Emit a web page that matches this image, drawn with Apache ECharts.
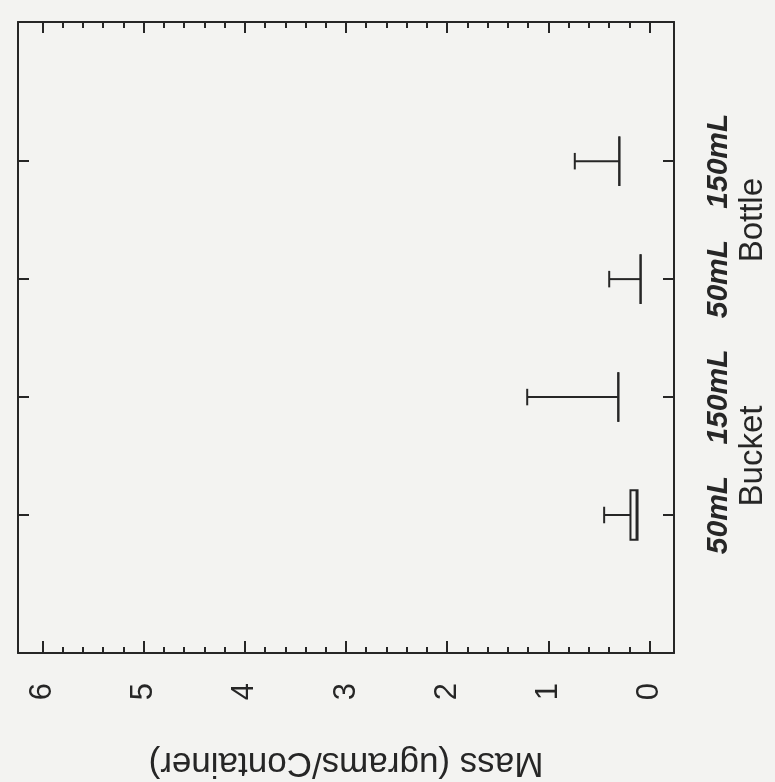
<!DOCTYPE html>
<html><head><meta charset="utf-8">
<script src="https://cdn.jsdelivr.net/npm/echarts@6/dist/echarts.min.js"></script>
<style>html,body{margin:0;padding:0;background:#f3f3f1}#c{width:775px;height:782px}</style>
</head><body><div id="c"></div>
<script>
// ---- data ----
const categories = ['50mL', '150mL', '50mL', '150mL'];
const positions = [1, 2, 3, 4];
const groups = ['Bucket', 'Bottle'];
const groupPositions = [1.5, 3.5];
const minVals = [0.12, 0.31, 0.09, 0.30];
const q1Vals = [0.12, 0.31, 0.09, 0.30];
const medianVals = [0.13, 0.31, 0.09, 0.30];
const q3Vals = [0.19, 0.31, 0.09, 0.30];
const maxVals = [0.45, 1.21, 0.40, 0.74];
const valueTicks = [0, 1, 2, 3, 4, 5, 6];
const minorTicks = [0.2,0.4,0.6,0.8,1.2,1.4,1.6,1.8,2.2,2.4,2.6,2.8,3.2,3.4,3.6,3.8,4.2,4.4,4.6,4.8,5.2,5.4,5.6,5.8];
const valueTitle = 'Mass (ugrams/Container)';

const ink = '#262626';
const rows = positions.map((p, i) => [p, minVals[i], q1Vals[i], medianVals[i], q3Vals[i], maxVals[i]]);

function xAx(pos, ticks, len, opts) {
  return Object.assign({
    type: 'value', position: pos, min: -0.24, max: 6.24, inverse: true,
    axisLine: { show: false, onZero: false, lineStyle: { color: ink, width: 2 } },
    axisTick: { show: true, inside: true, length: len, customValues: ticks, lineStyle: { color: ink, width: 2 } },
    axisLabel: { show: false }, splitLine: { show: false }
  }, opts || {});
}
function yAx(pos, opts) {
  return Object.assign({
    type: 'value', position: pos, min: -0.17, max: 5.18,
    axisLine: { show: true, onZero: false, lineStyle: { color: ink, width: 2 } },
    axisTick: { show: true, inside: true, length: 11, customValues: positions, lineStyle: { color: ink, width: 2 } },
    axisLabel: { show: false }, splitLine: { show: false }
  }, opts || {});
}

const chart = echarts.init(document.getElementById('c'));
chart.setOption({
  backgroundColor: '#f3f3f1',
  animation: false,
  grid: { left: 18, right: 101, top: 22, bottom: 129, containLabel: false, outerBoundsMode: 'none' },
  xAxis: [
    xAx('bottom', valueTicks, 12, {
      axisLine: { show: true, onZero: false, lineStyle: { color: ink, width: 2 } },
      axisLabel: { show: true, customValues: valueTicks, rotate: 90, margin: 30,
        fontSize: 31, color: ink, fontFamily: 'Liberation Sans' },
      name: valueTitle, nameLocation: 'middle', nameRotate: 180, nameGap: 92,
      nameTextStyle: { fontSize: 35, color: ink, fontFamily: 'Liberation Sans' }
    }),
    xAx('bottom', minorTicks, 6),
    xAx('top', valueTicks, 11, { axisLine: { show: true, onZero: false, lineStyle: { color: ink, width: 2 } } }),
    xAx('top', minorTicks, 6)
  ],
  yAxis: [
    yAx('right', {
      axisLabel: { show: true, customValues: positions, rotate: 90, margin: 30,
        formatter: (v) => categories[positions.indexOf(v)],
        fontSize: 30, fontStyle: 'italic', fontWeight: 'bold', color: ink, fontFamily: 'Liberation Sans' }
    }),
    yAx('left'),
    yAx('right', {
      offset: 62,
      axisLine: { show: false, onZero: false }, axisTick: { show: false },
      axisLabel: { show: true, customValues: groupPositions, rotate: 90, margin: 0,
        formatter: (v) => groups[groupPositions.indexOf(v)],
        fontSize: 33, color: ink, fontFamily: 'Liberation Sans' }
    })
  ],
  series: [{
    type: 'custom',
    xAxisIndex: 0, yAxisIndex: 0,
    data: rows,
    encode: { x: [1, 2, 3, 4, 5], y: 0 },
    renderItem: function (params, api) {
      const p = api.value(0);
      const mn = api.coord([api.value(1), p]);
      const q1 = api.coord([api.value(2), p]);
      const md = api.coord([api.value(3), p]);
      const q3 = api.coord([api.value(4), p]);
      const mx = api.coord([api.value(5), p]);
      const hb = api.size([0, 0.21])[1];
      const hc = api.size([0, 0.07])[1];
      const st = { stroke: ink, lineWidth: 2, fill: null };
      const y = q1[1];
      return { type: 'group', children: [
        { type: 'rect', shape: { x: Math.min(q1[0], q3[0]), y: y - hb, width: Math.abs(q1[0] - q3[0]), height: 2 * hb }, style: st },
        { type: 'line', shape: { x1: md[0], y1: y - hb, x2: md[0], y2: y + hb }, style: st },
        { type: 'line', shape: { x1: q3[0], y1: y, x2: mx[0], y2: y }, style: st },
        { type: 'line', shape: { x1: mx[0], y1: y - hc, x2: mx[0], y2: y + hc }, style: st },
        { type: 'line', shape: { x1: q1[0], y1: y, x2: mn[0], y2: y }, style: st }
      ]};
    }
  }]
});
</script>
</body></html>
